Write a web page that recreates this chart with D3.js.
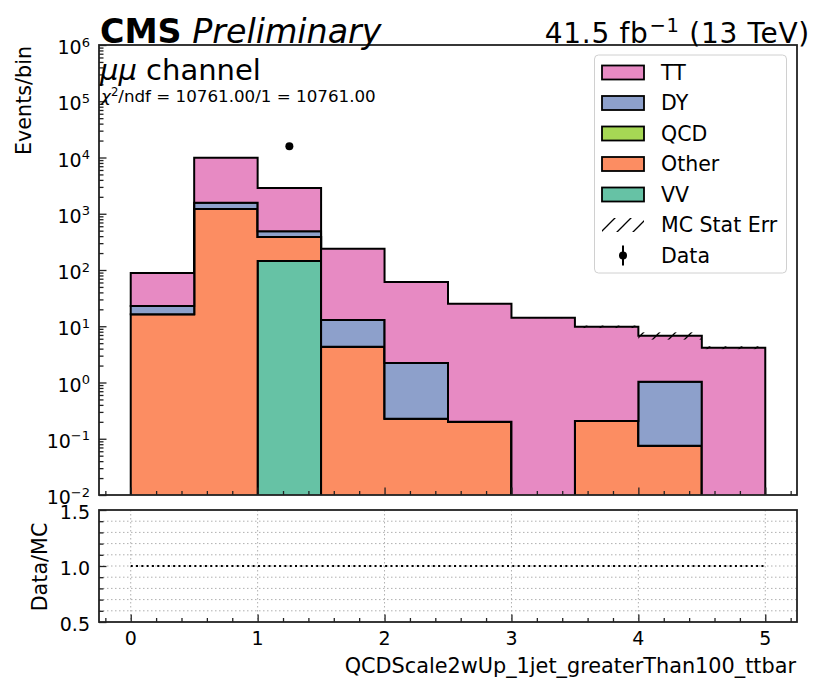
<!DOCTYPE html>
<html>
<head>
<meta charset="utf-8">
<script src="https://cdn.jsdelivr.net/npm/d3@7"></script>
<style>
  body { margin: 0; background: #fff; }
  text { font-family: "DejaVu Sans", sans-serif; fill: #000; }
</style>
</head>
<body>
<svg id="chart" width="826" height="694"></svg>
<script>
// bin edges and per-bin yields
var edges = [0, 0.5, 1, 1.5, 2, 2.5, 3, 3.5, 4, 4.5, 5]
var vv = [0, 0, 145, 0, 0, 0, 0, 0, 0, 0]
var other = [16.3, 1214, 241, 4.33, 0.227, 0.201, 0, 0.207, 0.0753, 0]
var qcd = [0, 0, 0, 0, 0, 0, 0, 0, 0, 0]
var dy = [6.6, 359, 102, 8.57, 1.99, 0, 0, 0, 0.955, 0]
var tt = [65.6, 8357, 2382, 226, 59.0, 25.0, 14.2, 9.59, 5.76, 4.16]
var mcErr = [1.2, 45, 25, 2.5, 0.9, 0.3, 0.25, 0.5, 1.0, 0.24]
var dataVals = [0, 0, 15800, 0, 0, 0, 0, 0, 0, 0]

var legendNames = ['TT', 'DY', 'QCD', 'Other', 'VV']
var colors = { TT: '#e78ac3', DY: '#8da0cb', QCD: '#a6d854', Other: '#fc8d62', VV: '#66c2a5' }
var yMajor = [1e-2, 1e-1, 1e0, 1e1, 1e2, 1e3, 1e4, 1e5, 1e6]
var xMajor = [0, 1, 2, 3, 4, 5]
var rMajor = [0.5, 1.0, 1.5]

var chi2Text = '/ndf = 10761.00/1 = 10761.00'

var svg = d3.select('#chart')
var L = 99, R = 797, T = 45, B = 495, RT = 510, RB = 622

var x = d3.scaleLinear().domain([-0.25, 5.25]).range([L, R])
var y = d3.scaleLog().domain([1e-2, 1e6]).range([B, T])
var yr = d3.scaleLinear().domain([0.5, 1.5]).range([RB, RT])

var defs = svg.append('defs')
defs.append('clipPath').attr('id', 'clipMain')
  .append('rect').attr('x', L).attr('y', T).attr('width', R - L).attr('height', B - T)
defs.append('clipPath').attr('id', 'clipRatio')
  .append('rect').attr('x', L).attr('y', RT).attr('width', R - L).attr('height', RB - RT)
var pat = defs.append('pattern').attr('id', 'hatch')
  .attr('patternUnits', 'userSpaceOnUse').attr('width', 16).attr('height', 16)
pat.append('path').attr('d', 'M0,16 L16,0 M-4,4 L4,-4 M12,20 L20,12')
  .attr('stroke', '#000').attr('stroke-width', 1.3)

// stacked histogram
var nb = edges.length - 1
var keys = ['VV', 'Other', 'QCD', 'DY', 'TT']
var byKey = { VV: vv, Other: other, QCD: qcd, DY: dy, TT: tt }
var rows = edges.map(function (e, i) {
  var j = Math.min(i, nb - 1)
  var r = { x: e }
  keys.forEach(function (k) { r[k] = byKey[k][j] })
  return r
})
var series = d3.stack().keys(keys)(rows)
var floor = 1e-4
var area = d3.area()
  .curve(d3.curveStepAfter)
  .x(function (d) { return x(d.data.x) })
  .y0(function (d) { return y(Math.max(d[0], floor)) })
  .y1(function (d) { return y(Math.max(d[1], floor)) })

var gMain = svg.append('g').attr('clip-path', 'url(#clipMain)')
gMain.selectAll('path.layer')
  .data(series)
  .enter().append('path')
  .attr('class', 'layer')
  .attr('d', area)
  .attr('fill', function (d) { return colors[d.key] })
  .attr('stroke', '#000')
  .attr('stroke-width', 2)
  .attr('stroke-linejoin', 'miter')

var totals = d3.range(nb).map(function (j) {
  return d3.sum(keys, function (k) { return byKey[k][j] })
})

// MC stat error band
gMain.selectAll('rect.err')
  .data(d3.range(nb))
  .enter().append('rect')
  .attr('class', 'err')
  .attr('x', function (j) { return x(edges[j]) })
  .attr('width', function (j) { return x(edges[j + 1]) - x(edges[j]) })
  .attr('y', function (j) { return y(totals[j] + mcErr[j]) })
  .attr('height', function (j) { return y(Math.max(totals[j] - mcErr[j], floor)) - y(totals[j] + mcErr[j]) })
  .attr('fill', 'url(#hatch)')

// data points
var pts = d3.range(nb).filter(function (j) { return dataVals[j] > 0 })
  .map(function (j) { return { x: (edges[j] + edges[j + 1]) / 2, v: dataVals[j], t: totals[j] } })
gMain.selectAll('line.derr')
  .data(pts)
  .enter().append('line')
  .attr('x1', function (d) { return x(d.x) }).attr('x2', function (d) { return x(d.x) })
  .attr('y1', function (d) { return y(d.v + Math.sqrt(d.v)) })
  .attr('y2', function (d) { return y(d.v - Math.sqrt(d.v)) })
  .attr('stroke', '#000').attr('stroke-width', 2)
gMain.selectAll('circle.dot')
  .data(pts)
  .enter().append('circle')
  .attr('cx', function (d) { return x(d.x) })
  .attr('cy', function (d) { return y(d.v) })
  .attr('r', 4)
  .attr('fill', '#000')

// ratio panel grid
var gRatio = svg.append('g')
var rGrid = d3.range(6, 15).map(function (v) { return v / 10 })
gRatio.selectAll('line.hg')
  .data(rGrid)
  .enter().append('line')
  .attr('x1', L).attr('x2', R)
  .attr('y1', function (d) { return yr(d) }).attr('y2', function (d) { return yr(d) })
  .attr('stroke', '#b0b0b0').attr('stroke-width', 1).attr('stroke-dasharray', '1.5,2.5')
gRatio.selectAll('line.vg')
  .data(xMajor)
  .enter().append('line')
  .attr('x1', function (d) { return x(d) }).attr('x2', function (d) { return x(d) })
  .attr('y1', RT).attr('y2', RB)
  .attr('stroke', '#b0b0b0').attr('stroke-width', 1).attr('stroke-dasharray', '1.5,2.5')
gRatio.append('line')
  .attr('x1', x(edges[0])).attr('x2', x(edges[nb]))
  .attr('y1', yr(1)).attr('y2', yr(1))
  .attr('stroke', '#000').attr('stroke-width', 2.2).attr('stroke-dasharray', '2,3.3')
var ratioPts = pts.map(function (d) { return { x: d.x, r: d.v / d.t } })
  .filter(function (d) { return d.r >= 0.5 && d.r <= 1.5 })
gRatio.append('g').attr('clip-path', 'url(#clipRatio)')
  .selectAll('circle')
  .data(ratioPts)
  .enter().append('circle')
  .attr('cx', function (d) { return x(d.x) })
  .attr('cy', function (d) { return yr(d.r) })
  .attr('r', 4).attr('fill', '#000')

// ticks (inward)
function ticks (g, axis) {
  g.call(axis)
  g.select('.domain').remove()
  g.selectAll('.tick line').attr('stroke', '#222').attr('stroke-width', 1.3)
  g.selectAll('.tick text').remove()
}
var yMinor = []
for (var e = -2; e < 6; e++) {
  for (var m = 2; m < 10; m++) yMinor.push(m * Math.pow(10, e))
}
var xMinor = d3.range(-1, 27).map(function (i) { return i * 0.2 }).filter(function (v) { return v > -0.25 && v < 5.25 && Math.abs(v - Math.round(v)) > 1e-6 })
var rMinor = d3.range(6, 15).map(function (v) { return v / 10 }).filter(function (v) { return Math.abs(v - 1) > 1e-6 })

ticks(svg.append('g').attr('transform', 'translate(' + L + ',0)'), d3.axisLeft(y).tickValues(yMajor).tickSize(-7.5))
ticks(svg.append('g').attr('transform', 'translate(' + L + ',0)'), d3.axisLeft(y).tickValues(yMinor).tickSize(-4.5))
ticks(svg.append('g').attr('transform', 'translate(0,' + B + ')'), d3.axisBottom(x).tickValues(xMajor).tickSize(-7.5))
ticks(svg.append('g').attr('transform', 'translate(0,' + B + ')'), d3.axisBottom(x).tickValues(xMinor).tickSize(-4))
ticks(svg.append('g').attr('transform', 'translate(' + L + ',0)'), d3.axisLeft(yr).tickValues(rMajor).tickSize(-7.5))
ticks(svg.append('g').attr('transform', 'translate(' + L + ',0)'), d3.axisLeft(yr).tickValues(rMinor).tickSize(-4.5))
ticks(svg.append('g').attr('transform', 'translate(0,' + RB + ')'), d3.axisBottom(x).tickValues(xMajor).tickSize(-7.5))
ticks(svg.append('g').attr('transform', 'translate(0,' + RB + ')'), d3.axisBottom(x).tickValues(xMinor).tickSize(-4))

// tick labels
var yl = svg.append('g').selectAll('text')
  .data(yMajor)
  .enter().append('text')
  .attr('x', 90)
  .attr('y', function (d) { return y(d) + 9 })
  .attr('text-anchor', 'end')
  .attr('font-size', 19)
yl.append('tspan').text('10')
yl.append('tspan')
  .attr('font-size', 13)
  .attr('dy', -7.5)
  .text(function (d) { var p = Math.round(Math.log10(d)); return p < 0 ? '\u2212' + (-p) : String(p) })

svg.append('g').selectAll('text')
  .data(rMajor)
  .enter().append('text')
  .attr('x', 90)
  .attr('y', function (d) { return yr(d) + 8.8 })
  .attr('text-anchor', 'end')
  .attr('font-size', 19)
  .text(function (d) { return d.toFixed(1) })

svg.append('g').selectAll('text')
  .data(xMajor)
  .enter().append('text')
  .attr('x', function (d) { return x(d) })
  .attr('y', 645)
  .attr('text-anchor', 'middle')
  .attr('font-size', 19)
  .text(function (d) { return d })

// spines
svg.append('rect').attr('x', L).attr('y', T).attr('width', R - L).attr('height', B - T)
  .attr('fill', 'none').attr('stroke', '#222').attr('stroke-width', 1.8)
svg.append('rect').attr('x', L).attr('y', RT).attr('width', R - L).attr('height', RB - RT)
  .attr('fill', 'none').attr('stroke', '#222').attr('stroke-width', 1.8)

// axis labels
svg.append('text')
  .attr('transform', 'translate(31,' + (T + 1) + ') rotate(-90)')
  .attr('text-anchor', 'end').attr('font-size', 20.7)
  .text('Events/bin')
svg.append('text')
  .attr('transform', 'translate(46.5,' + ((RT + RB) / 2 + 1) + ') rotate(-90)')
  .attr('text-anchor', 'middle').attr('font-size', 20.7)
  .text('Data/MC')
svg.append('text')
  .attr('x', R - 1).attr('y', 673)
  .attr('text-anchor', 'end').attr('font-size', 20.8)
  .text('QCDScale2wUp_1jet_greaterThan100_ttbar')

// header texts
var cms = svg.append('text').attr('x', 100).attr('y', 43).attr('font-size', 33.3)
cms.append('tspan').attr('font-weight', 'bold').text('CMS')
cms.append('tspan').attr('font-style', 'italic').text(' Preliminary')

var lumi = svg.append('text').attr('x', 810).attr('y', 43).attr('text-anchor', 'end')
  .attr('font-size', 28).attr('letter-spacing', 0.7)
lumi.append('tspan').text('41.5 fb')
lumi.append('tspan').attr('font-size', 19.5).attr('dx', 1).attr('dy', -11).text('\u22121')
lumi.append('tspan').attr('dy', 11).text(' (13 TeV)')

var ch = svg.append('text').attr('x', 100).attr('y', 80).attr('font-size', 29)
ch.append('tspan').attr('font-style', 'italic').text('\u03bc\u03bc')
ch.append('tspan').text(' channel')

var chi = svg.append('text').attr('x', 101).attr('y', 102).attr('font-size', 16.7)
chi.append('tspan').attr('font-style', 'italic').text('\u03c7')
chi.append('tspan').attr('font-size', 11.7).attr('dy', -6.5).text('2')
chi.append('tspan').attr('dy', 6.5).text(chi2Text)

// legend
var lg = svg.append('g')
lg.append('rect').attr('x', 594.5).attr('y', 55).attr('width', 192).attr('height', 218)
  .attr('rx', 4).attr('fill', '#fff').attr('fill-opacity', 0.8)
  .attr('stroke', '#d0d0d0').attr('stroke-width', 1)
var rowY = function (i) { return 72.5 + i * 30.5 }
var items = legendNames.map(function (n) { return { name: n, kind: 'patch' } })
items.push({ name: 'MC Stat Err', kind: 'hatch' })
items.push({ name: 'Data', kind: 'data' })
var li = lg.selectAll('g.item')
  .data(items)
  .enter().append('g')
  .attr('class', 'item')
  .attr('transform', function (d, i) { return 'translate(0,' + rowY(i) + ')' })
li.filter(function (d) { return d.kind === 'patch' })
  .append('rect')
  .attr('x', 602).attr('y', -7).attr('width', 42).attr('height', 14)
  .attr('fill', function (d) { return colors[d.name] })
  .attr('stroke', '#000').attr('stroke-width', 1.8)
li.filter(function (d) { return d.kind === 'hatch' })
  .append('rect')
  .attr('x', 602).attr('y', -7).attr('width', 42).attr('height', 14)
  .attr('fill', 'url(#hatch)')
var ld = li.filter(function (d) { return d.kind === 'data' })
ld.append('line').attr('x1', 623).attr('x2', 623).attr('y1', -10).attr('y2', 10)
  .attr('stroke', '#000').attr('stroke-width', 2)
ld.append('circle').attr('cx', 623).attr('cy', 0).attr('r', 4).attr('fill', '#000')
li.append('text')
  .attr('x', 661).attr('y', 7.3)
  .attr('font-size', 20.5)
  .text(function (d) { return d.name })
</script>
</body>
</html>
